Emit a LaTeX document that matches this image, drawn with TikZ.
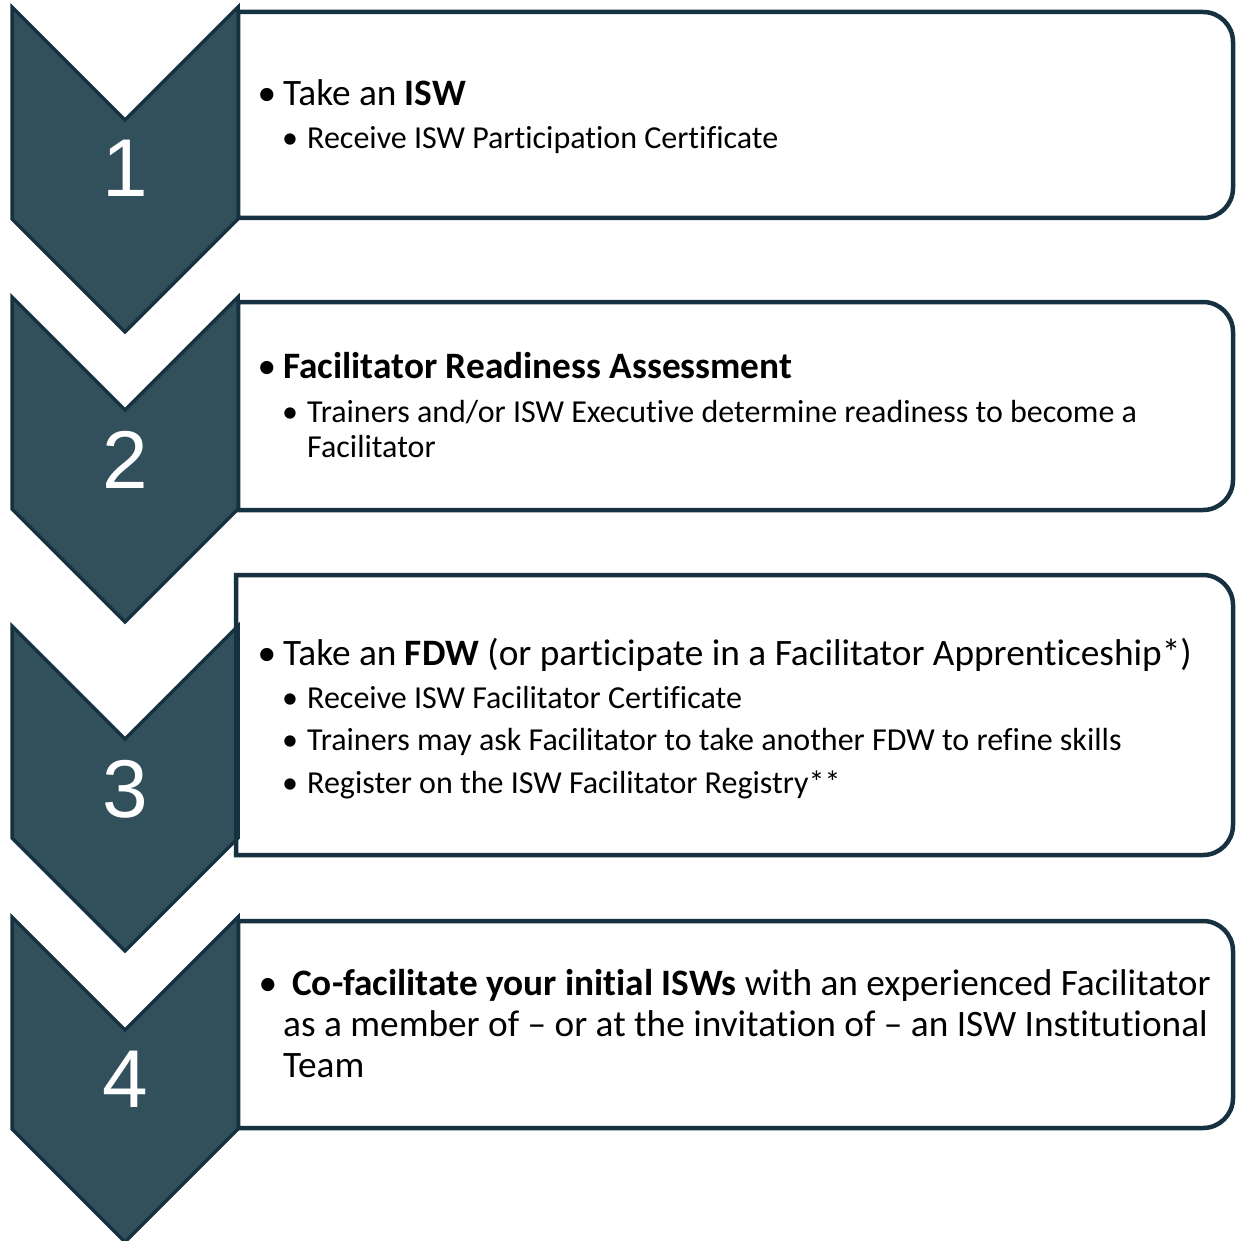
\documentclass[tikz,border=0pt]{standalone}
\usepackage{fontspec}
\setmainfont{Carlito}[Ligatures={NoCommon,TeX}]
\newfontfamily\numfam{Liberation Sans}
\definecolor{chevfill}{RGB}{50,80,92}
\definecolor{chevline}{RGB}{22,50,65}
\newcommand\txm{\fontsize{37.3}{41}\selectfont}
\newcommand\txs{\fontsize{32}{35}\selectfont}
\newcommand\txn{\numfam\fontsize{82}{90}\selectfont}
\newcommand\chevronshape[1]{%
  \draw[chev] (12,#1) -- (125,#1+113) -- (238,#1) -- (238,#1+212) -- (125,#1+325) -- (12,#1+212) -- cycle;}
\newcommand\panelbox[3]{%
  \draw[panel] (#1,#2) -- (1203,#2) .. controls (1219.6,#2) and (1233,#2+13.4) .. (1233,#2+30)
    -- (1233,#3-30) .. controls (1233,#3-13.4) and (1219.6,#3) .. (1203,#3) -- (#1,#3) -- cycle;}
\tikzset{
  chev/.style={fill=chevfill, draw=chevline, line width=3.5pt, line join=miter},
  panel/.style={fill=white, draw=chevline, line width=4.5pt},
  num/.style={font=\txn, text=white, anchor=base, inner sep=0pt},
  mtext/.style={font=\txm, anchor=base west, inner sep=0pt},
  stext/.style={font=\txs, anchor=base west, inner sep=0pt},
  mbul/.style={font=\txm, anchor=base, inner sep=0pt},
  sbul/.style={font=\txs, anchor=base, inner sep=0pt},
}
\begin{document}
\begin{tikzpicture}[x=1pt,y=-1pt]
\useasboundingbox (0,0) rectangle (1237,1241);
% panels
\panelbox{238}{12}{218}
\panelbox{238}{302}{510}
\panelbox{236}{575}{855}
\panelbox{238}{921}{1128}
% chevrons
\chevronshape{7}
\chevronshape{297}
\chevronshape{626}
\chevronshape{917}
\draw[chevline, line width=4.5pt] (236,575) -- (236,855);
% numbers
\node[num] (n1) at (125,197) {1};
\node[num] (n2) at (125,488) {2};
\node[num] (n3) at (125,817) {3};
\node[num] (n4) at (125,1107) {4};
% box 1
\node[mbul] (b1b) at (267,106) {•};
\node[mtext] (b1t) at (283,106) {Take an \textbf{ISW}};
\node[sbul] (b1sb) at (290,149) {•};
\node[stext] (b1s) at (307,149) {Receive ISW Participation Certificate};
% box 2
\node[mbul] (b2b) at (267,378) {•};
\node[mtext] (b2t) at (283,378) {\textbf{Facilitator Readiness Assessment}};
\node[sbul] (b2sb) at (290,422) {•};
\node[stext] (b2s) at (307,422) {Trainers and/or ISW Executive determine readiness to become a};
\node[stext] (b2s2) at (307,457) {Facilitator};
% box 3
\node[mbul] (b3b) at (267,665) {•};
\node[mtext] (b3t) at (283,665) {Take an \textbf{FDW} (or participate in a Facilitator Apprenticeship*)};
\node[sbul] (b3sb1) at (290,708) {•};
\node[stext] (b3s1) at (307,708) {Receive ISW Facilitator Certificate};
\node[sbul] (b3sb2) at (290,750) {•};
\node[stext] (b3s2) at (307,750) {Trainers may ask Facilitator to take another FDW to refine skills};
\node[sbul] (b3sb3) at (290,793) {•};
\node[stext] (b3s3) at (307,793) {Register on the ISW Facilitator Registry**};
% box 4
\node[mbul] (b4b) at (268,995) {•};
\node[mtext] (b4t1) at (292,995) {\textbf{Co-facilitate your initial ISWs} with an experienced Facilitator};
\node[mtext] (b4t2) at (283,1036) {as a member of \textendash{} or at the invitation of \textendash{} an ISW Institutional};
\node[mtext] (b4t3) at (283,1077) {Team};
\end{tikzpicture}
\end{document}
